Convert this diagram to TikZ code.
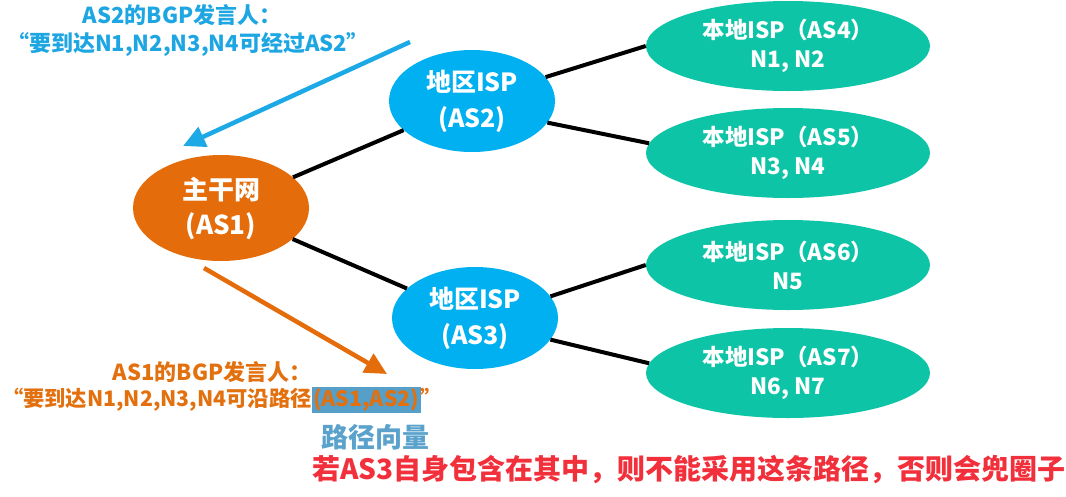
\documentclass[tikz,border=0pt]{standalone}
\usepackage{fontspec}
\setmainfont{Noto Sans CJK SC}
\usetikzlibrary{shapes.geometric,arrows.meta}
\definecolor{cOrange}{HTML}{E46C0A}
\definecolor{cBlue}{HTML}{00B0F0}
\definecolor{cTeal}{HTML}{0DC5A6}
\definecolor{cArrowBlue}{HTML}{1CA9E6}
\definecolor{cTextBlue}{HTML}{1EA6E2}
\definecolor{cTextOrange}{HTML}{E3700F}
\definecolor{cHigh}{HTML}{559FC8}
\definecolor{cVec}{HTML}{5AA2CB}
\definecolor{cRed}{HTML}{F2303C}
\tikzset{
  blob/.style={ellipse, draw=none, inner sep=0pt, text=white, align=center},
  coreblob/.style={blob, fill=cOrange, minimum width=176pt, minimum height=106pt, font=\bfseries\fontsize{26}{35}\selectfont},
  regblob/.style={blob, fill=cBlue, minimum width=166pt, minimum height=102pt, font=\bfseries\fontsize{25}{36}\selectfont},
  localblob/.style={blob, fill=cTeal, minimum width=284pt, minimum height=90pt, font=\bfseries\fontsize{22.5}{29}\selectfont},
  link/.style={line width=4pt, black},
  msg/.style={line width=4.5pt, -{Triangle[length=22pt,width=21pt]}},
  lbl/.style={inner sep=0pt, font=\bfseries\fontsize{22}{26}\selectfont, anchor=center},
}
\begin{document}
\begin{tikzpicture}[x=1pt,y=-1pt]
\useasboundingbox (0,0) rectangle (1066,496);
% nodes
\node[coreblob] (as1) at (221,208) {主干网\\(AS1)};
\node[regblob] (as2) at (472,101) {地区ISP\\(AS2)};
\node[regblob] (as3) at (475,318) {地区ISP\\(AS3)};
\node[localblob] (as4) at (788,46) {本地ISP（AS4）\\N1, N2};
\node[localblob] (as5) at (788,153) {本地ISP（AS5）\\N3, N4};
\node[localblob] (as6) at (788,265) {本地ISP（AS6）\\N5};
\node[localblob] (as7) at (788,373) {本地ISP（AS7）\\N6, N7};
% links
\draw[link] (as1) -- (as2);
\draw[link] (as1) -- (as3);
\draw[link] (as2.18) -- (as4.west);
\draw[link] (as2.-16) -- (as5.176);
\draw[link] (as3.16) -- (as6.west);
\draw[link] (as3.-16) -- (as7.176);
% message arrows
\coordinate (bs) at (410,42);
\coordinate (be) at (183,146);
\draw[msg, cArrowBlue] (bs) -- (be);
\coordinate (os) at (204,268);
\coordinate (oe) at (387,374);
\draw[msg, cOrange] (os) -- (oe);
% texts
\node[lbl, text=cTextBlue] (t1) at (182,15) {AS2的BGP发言人：};
\node[lbl, text=cTextBlue] (t2) at (188,44) {“要到达N1,N2,N3,N4可经过AS2”};
\node[lbl, text=cTextOrange] (t3) at (212,372) {AS1的BGP发言人：};
\node[lbl, text=cTextOrange, font=\bfseries\fontsize{21.3}{26}\selectfont] (t4) at (222,400) {“要到达N1,N2,N3,N4可沿路径{\setlength{\fboxsep}{1.5pt}\colorbox{cHigh}{(AS1,AS2)}}”};
\node[lbl, text=cVec, font=\bfseries\fontsize{27}{30}\selectfont] (t5) at (375,437) {路径向量};
\node[lbl, text=cRed, font=\bfseries\fontsize{28}{32}\selectfont] (t6) at (689,470) {若AS3自身包含在其中，则不能采用这条路径，否则会兜圈子};
\end{tikzpicture}
\end{document}
